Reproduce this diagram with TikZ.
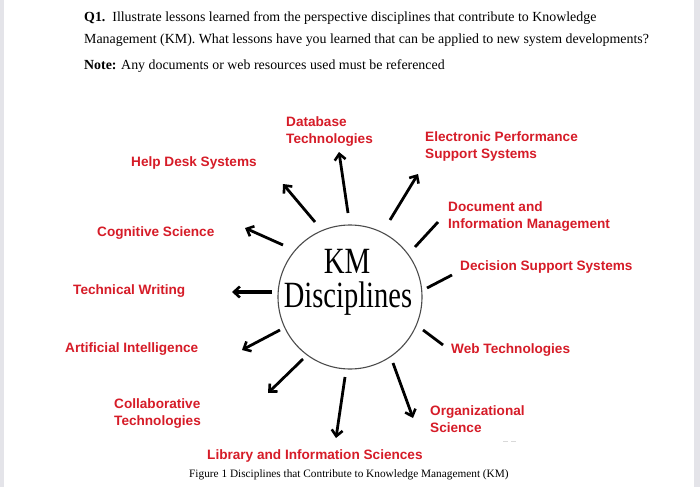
\documentclass[tikz,border=0pt]{standalone}
\usepackage{fontspec}
\setmainfont{Liberation Serif}
\setsansfont{Liberation Sans}
\usetikzlibrary{arrows.meta}
\definecolor{lblred}{RGB}{214,28,40}
\definecolor{edgegray}{RGB}{228,228,233}
\tikzset{
  lbl/.style={font=\sffamily\bfseries\fontsize{13.6}{17}\selectfont, text=lblred, align=left, anchor=west, inner sep=0pt},
  ray/.style={line width=2.8pt, -{Straight Barb[length=6pt,width=11pt,line width=2.6pt]}},
  bar/.style={line width=2.8pt},
  qtext/.style={font=\fontsize{13.9}{16}\selectfont, anchor=west, inner sep=0pt}
}
\begin{document}
\begin{tikzpicture}[x=1pt,y=-1pt]
\useasboundingbox (0,0) rectangle (700,487);
\fill[white] (0,0) rectangle (700,487);
\fill[edgegray] (0,0) rectangle (4,487);
\fill[edgegray] (694,0) rectangle (700,487);
% question
\node[qtext] (q1) at (84,18.5) {\textbf{Q1.}\ \ Illustrate lessons learned from the perspective disciplines that contribute to Knowledge};
\node[qtext] (q2) at (84,40.5) {Management (KM). What lessons have you learned that can be applied to new system developments?};
\node[qtext] (q3) at (84,66.5) {\textbf{Note:} Any documents or web resources used must be referenced};
% centre
\node[draw=black!70, line width=1.1pt, circle, minimum size=144pt, inner sep=0pt] (km) at (350,297) {};
\node[font=\fontsize{37}{38}\selectfont, inner sep=0pt] (kmt) at (347,261) {\scalebox{0.78}[1]{KM}};
\node[font=\fontsize{37}{38}\selectfont, inner sep=0pt] (dis) at (348,299) {\scalebox{0.77}[1]{Disciplines}};
% ray coordinates
\coordinate (s1) at (348,213); \coordinate (e1) at (339,152);
\coordinate (s2) at (315,222); \coordinate (e2) at (283,184);
\coordinate (s3) at (390,220); \coordinate (e3) at (418,174);
\coordinate (s4) at (283,245); \coordinate (e4) at (245,228);
\coordinate (s5) at (272,292); \coordinate (e5) at (232,292);
\coordinate (s6) at (280,330); \coordinate (e6) at (242,350);
\coordinate (s7) at (303,359); \coordinate (e7) at (268,393);
\coordinate (s8) at (345,377); \coordinate (e8) at (336,438);
\coordinate (s9) at (393,363); \coordinate (e9) at (413,418);
\coordinate (s10) at (415,247); \coordinate (e10) at (438,222);
\coordinate (s11) at (427,288); \coordinate (e11) at (452,275);
\coordinate (s12) at (423,330); \coordinate (e12) at (443,345);
\foreach \i in {1,2,3,4,6,7,8,9} \draw[ray] (s\i) -- (e\i);
\draw[ray, line width=3.6pt] (s5) -- (e5);
\foreach \i in {10,11,12} \draw[bar] (s\i) -- (e\i);
% labels
\node[lbl] (db) at (286,131.5) {Database\\Technologies};
\node[lbl] (eps) at (425,146.5) {Electronic Performance\\Support Systems};
\node[lbl] (hd) at (131,163) {Help Desk Systems};
\node[lbl] (dim) at (448,217) {Document and\\Information Management};
\node[lbl] (cs) at (97,233) {Cognitive Science};
\node[lbl] (dss) at (460,267) {Decision Support Systems};
\node[lbl] (tw) at (73,291) {Technical Writing};
\node[lbl] (ai) at (65,349) {Artificial Intelligence};
\node[lbl] (wt) at (451,350) {Web Technologies};
\node[lbl] (ct) at (114,414) {Collaborative\\Technologies};
\node[lbl] (os) at (430,419.5) {Organizational\\Science};
\node[lbl] (lis) at (207,456) {Library and Information Sciences};
\node[font=\fontsize{11.3}{12}\selectfont, anchor=west, inner sep=0pt] (cap) at (189,474.5) {Figure 1 Disciplines that Contribute to Knowledge Management (KM)};
\draw[black!15, line width=1pt] (503,441) -- (508,441) (511,441) -- (516,441);
\end{tikzpicture}
\end{document}
